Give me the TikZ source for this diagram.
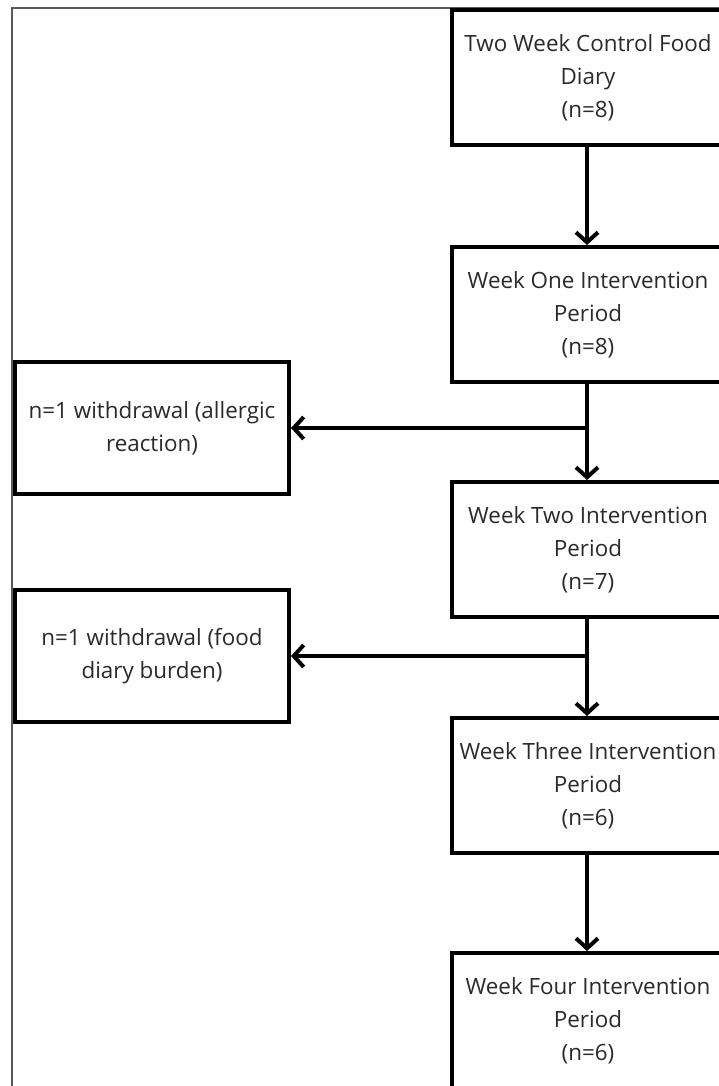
\documentclass[tikz,border=0pt]{standalone}
\usepackage{fontspec}
\setmainfont{Open Sans}
\usetikzlibrary{arrows.meta}
\definecolor{txt}{HTML}{2A2A2A}
\tikzset{
  box/.style={draw=black, line width=4pt, fill=white, align=center, text=txt,
    minimum width=272pt, minimum height=135pt, inner sep=0pt,
    font=\fontsize{22.4}{33}\selectfont},
  sidebox/.style={box, minimum width=274pt, minimum height=132pt},
  conn/.style={line width=4pt, -{Straight Barb[length=10pt,width=22pt,line width=4pt]}},
}
\begin{document}
\begin{tikzpicture}[x=1pt,y=-1pt]
\useasboundingbox (0,0) rectangle (719,1086);
\clip (0,0) rectangle (719,1086);
\fill[white] (0,0) rectangle (719,1086);
\draw[gray!70!black, line width=1.5pt] (12,1090) -- (12,8) -- (725,8);
\node[box] (b1) at (588,77.5) {Two Week Control Food\\Diary\\(n=8)};
\node[box] (b2) at (588,314.5) {Week One Intervention\\Period\\(n=8)};
\node[box] (b3) at (588,549.5) {Week Two Intervention\\Period\\(n=7)};
\node[box] (b4) at (588,785.5) {Week Three Intervention\\Period\\(n=6)};
\node[box] (b5) at (588,1020.5) {Week Four Intervention\\Period\\(n=6)};
\node[sidebox] (s1) at (152,428) {n=1 withdrawal (allergic\\reaction)};
\node[sidebox] (s2) at (152,656) {n=1 withdrawal (food\\diary burden)};
\draw[conn] (b1.south -| 587,0) -- (b2.north -| 587,0);
\draw[conn] (b2.south -| 587,0) -- (b3.north -| 587,0);
\draw[conn] (b3.south -| 587,0) -- (b4.north -| 587,0);
\draw[conn] (b4.south -| 587,0) -- (b5.north -| 587,0);
\coordinate (j1) at (587,428);
\coordinate (j2) at (587,656);
\draw[conn] (j1) -- (s1.east);
\draw[conn] (j2) -- (s2.east);
\end{tikzpicture}
\end{document}
